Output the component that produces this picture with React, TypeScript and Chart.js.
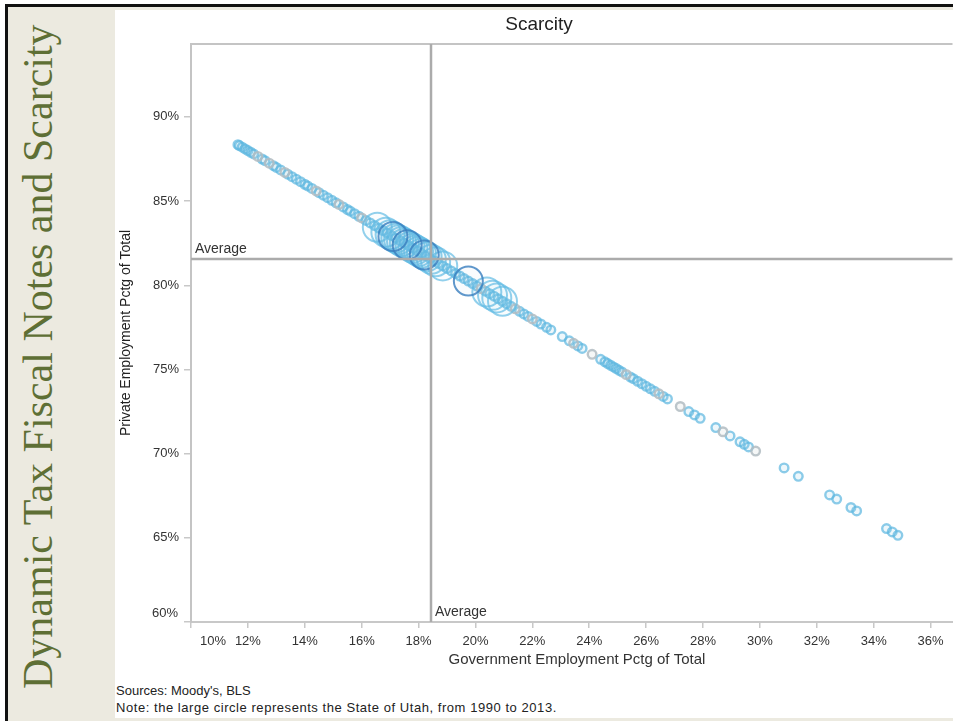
import React, { useEffect, useRef } from "react";
import { Chart, registerables } from "chart.js";

Chart.register(...registerables);

// ---------- DATA ----------
const X_TICKS = [10, 12, 14, 16, 18, 20, 22, 24, 26, 28, 30, 32, 34, 36];
const Y_TICKS = [60, 65, 70, 75, 80, 85, 90];
const AVG_GOV = [18.43];
const AVG_PRIV = [81.57];

// Counties (small circles), blue tone
const COUNTY_BLUE_GOV = [
  11.65, 11.7, 11.8, 11.9, 12.0, 12.1, 12.2, 12.5, 12.6, 12.9,
  13.0, 13.15, 13.4, 13.55, 13.7, 13.85, 14.0, 14.1, 14.25, 14.5,
  14.65, 14.8, 14.95, 15.1, 15.35, 15.5, 15.6, 15.75, 15.9, 16.15,
  16.3, 16.45, 16.6, 16.75, 16.9, 17.05, 17.2, 17.35, 17.5, 17.65,
  17.8, 17.95, 18.1, 18.25, 18.4, 18.55, 18.7, 18.85, 19.0, 19.15,
  19.3, 19.45, 19.6, 19.75, 19.9, 20.05, 20.35, 20.5, 20.65, 20.8,
  20.95, 21.1, 21.25, 21.55, 21.7, 21.85, 22.15, 22.3, 22.5, 22.65,
  23.05, 23.3, 23.6, 23.75, 24.4, 24.55, 24.65, 24.75, 24.85, 24.95,
  25.05, 25.15, 25.45, 25.55, 25.7, 25.85, 26.0, 26.15, 26.3, 26.6,
  26.75, 27.5, 27.7, 27.9, 28.45, 28.95, 29.3, 29.45, 29.6, 30.85,
  31.35, 32.45, 32.7, 33.2, 33.4, 34.45, 34.65, 34.85,
];
const COUNTY_BLUE_PRIV = [
  88.35, 88.3, 88.2, 88.1, 88.0, 87.9, 87.8, 87.5, 87.4, 87.1,
  87.0, 86.85, 86.6, 86.45, 86.3, 86.15, 86.0, 85.9, 85.75, 85.5,
  85.35, 85.2, 85.05, 84.9, 84.65, 84.5, 84.4, 84.25, 84.1, 83.85,
  83.7, 83.55, 83.4, 83.25, 83.1, 82.95, 82.8, 82.65, 82.5, 82.35,
  82.2, 82.05, 81.9, 81.75, 81.6, 81.45, 81.3, 81.15, 81.0, 80.85,
  80.7, 80.55, 80.4, 80.25, 80.1, 79.95, 79.65, 79.5, 79.35, 79.2,
  79.05, 78.9, 78.75, 78.45, 78.3, 78.15, 77.85, 77.7, 77.5, 77.35,
  76.95, 76.7, 76.4, 76.25, 75.6, 75.45, 75.35, 75.25, 75.15, 75.05,
  74.95, 74.85, 74.55, 74.45, 74.3, 74.15, 74.0, 73.85, 73.7, 73.4,
  73.25, 72.5, 72.3, 72.1, 71.55, 71.05, 70.7, 70.55, 70.4, 69.15,
  68.65, 67.55, 67.3, 66.8, 66.6, 65.55, 65.35, 65.15,
];

// Counties (small circles), grey tone
const COUNTY_GREY_GOV = [
  12.35, 12.75, 13.3, 14.4, 15.2, 16.0, 20.2, 21.4, 22.0, 23.45,
  24.1, 25.3, 26.45, 27.2, 28.7, 29.85,
];
const COUNTY_GREY_PRIV = [
  87.65, 87.25, 86.7, 85.6, 84.8, 84.0, 79.8, 78.6, 78.0, 76.55,
  75.9, 74.7, 73.55, 72.8, 71.3, 70.15,
];

// State of Utah 1990-2013 (large circles)
const UTAH_LIGHT_GOV = [
  16.55, 16.85, 17.0, 17.2, 17.3, 17.4, 17.5, 17.7, 17.8, 17.9,
  18.0, 18.1, 18.3, 18.45, 18.6, 18.85, 20.4, 20.6, 20.75, 20.95,
];
const UTAH_LIGHT_PRIV = [
  83.45, 83.15, 83.0, 82.8, 82.7, 82.6, 82.5, 82.3, 82.2, 82.1,
  82.0, 81.9, 81.7, 81.55, 81.4, 81.15, 79.6, 79.4, 79.25, 79.05,
];
const UTAH_DARK_GOV = [17.1, 17.6, 18.2, 19.75];
const UTAH_DARK_PRIV = [82.9, 82.4, 81.8, 80.25];

// ---------- HELPERS ----------
const FONT = "'Liberation Sans', Arial, sans-serif";
const toPoints = (xs: number[], ys: number[]) =>
  xs.map((x, i) => ({ x, y: ys[i] }));

const decorPlugin = {
  id: "decor",
  afterDatasetsDraw(chart: any) {
    const { ctx, chartArea, scales } = chart;
    const xs = scales.x;
    const ys = scales.y;
    ctx.save();
    ctx.strokeStyle = "#c4c4c4";
    ctx.lineWidth = 2;
    ctx.beginPath();
    ctx.moveTo(chartArea.left, chartArea.top);
    ctx.lineTo(chartArea.right, chartArea.top);
    ctx.stroke();
    ctx.strokeStyle = "#ababab";
    ctx.lineWidth = 2.5;
    const ax = Math.round(xs.getPixelForValue(AVG_GOV[0]));
    const ay = Math.round(ys.getPixelForValue(AVG_PRIV[0]));
    ctx.beginPath();
    ctx.moveTo(ax, chartArea.top);
    ctx.lineTo(ax, chartArea.bottom);
    ctx.moveTo(chartArea.left, ay);
    ctx.lineTo(chartArea.right, ay);
    ctx.stroke();
    ctx.fillStyle = "#333";
    ctx.font = `14px ${FONT}`;
    ctx.textBaseline = "middle";
    ctx.textAlign = "left";
    ctx.fillText("Average", chartArea.left + 4, ay - 10);
    ctx.fillText("Average", ax + 4, chartArea.bottom - 10);
    ctx.restore();
  },
  afterDraw(chart: any) {
    const { ctx, chartArea, scales } = chart;
    const xs = scales.x;
    const ys = scales.y;
    ctx.save();
    ctx.fillStyle = "#222";
    ctx.font = `19px ${FONT}`;
    ctx.textAlign = "center";
    ctx.textBaseline = "middle";
    ctx.fillText("Scarcity", 424, 15);
    ctx.fillStyle = "#333";
    ctx.font = `15px ${FONT}`;
    ctx.fillText("Government Employment Pctg of Total", 462, 650);
    ctx.save();
    ctx.translate(11, 323);
    ctx.rotate(-Math.PI / 2);
    ctx.font = `14px ${FONT}`;
    ctx.fillStyle = "#222";
    ctx.fillText("Private Employment Pctg of Total", 0, 0);
    ctx.restore();
    ctx.font = `13px ${FONT}`;
    ctx.fillStyle = "#333";
    ctx.textAlign = "center";
    ctx.fillText(X_TICKS[0] + "%", xs.getPixelForValue(X_TICKS[0]) + 22, chartArea.bottom + 19);
    ctx.textAlign = "right";
    ctx.fillText(Y_TICKS[0] + "%", chartArea.left - 13, ys.getPixelForValue(Y_TICKS[0]) - 9);
    ctx.restore();
  },
};

export default function App() {
  const ref = useRef<HTMLCanvasElement | null>(null);

  useEffect(() => {
    if (!ref.current) return;
    const chart = new Chart(ref.current, {
      type: "scatter",
      data: {
        datasets: [
          {
            label: "Utah (dark)",
            data: toPoints(UTAH_DARK_GOV, UTAH_DARK_PRIV),
            pointRadius: 14.5,
            borderWidth: 2,
            borderColor: "rgba(55,125,190,0.8)",
            backgroundColor: "rgba(55,125,190,0.03)",
            order: 1,
          },
          {
            label: "Utah",
            data: toPoints(UTAH_LIGHT_GOV, UTAH_LIGHT_PRIV),
            pointRadius: 14.5,
            borderWidth: 2,
            borderColor: "rgba(100,188,228,0.7)",
            backgroundColor: "rgba(100,188,228,0.03)",
            order: 2,
          },
          {
            label: "Counties (grey)",
            data: toPoints(COUNTY_GREY_GOV, COUNTY_GREY_PRIV),
            pointRadius: 4.3,
            borderWidth: 2.4,
            borderColor: "rgba(178,188,194,0.85)",
            backgroundColor: "rgba(190,198,202,0.15)",
            order: 3,
          },
          {
            label: "Counties",
            data: toPoints(COUNTY_BLUE_GOV, COUNTY_BLUE_PRIV),
            pointRadius: 4.3,
            borderWidth: 2.4,
            borderColor: "rgba(92,182,224,0.7)",
            backgroundColor: "rgba(140,200,230,0.15)",
            order: 4,
          },
        ],
      },
      options: {
        responsive: false,
        animation: false,
        events: [],
        layout: { padding: { top: 34, left: 0, right: 0, bottom: 0 } },
        plugins: {
          legend: { display: false },
          tooltip: { enabled: false },
          title: { display: false },
        },
        scales: {
          x: {
            type: "linear",
            min: 10,
            max: 36.77,
            afterBuildTicks: (s: any) => {
              s.ticks = X_TICKS.map((v) => ({ value: v }));
            },
            afterFit: (s: any) => {
              s.height = 58;
            },
            ticks: {
              autoSkip: false,
              maxRotation: 0,
              padding: 6,
              color: "#333",
              font: { family: FONT, size: 13 },
              callback: (v: any) => (v === X_TICKS[0] ? "" : v + "%"),
            },
            grid: {
              drawOnChartArea: false,
              drawTicks: true,
              tickLength: 6,
              color: "#c8c8c8",
              lineWidth: 1.5,
            },
            border: { display: true, color: "#c8c8c8", width: 2 },
          },
          y: {
            type: "linear",
            min: 60,
            max: 94.33,
            afterBuildTicks: (s: any) => {
              s.ticks = Y_TICKS.map((v) => ({ value: v }));
            },
            afterFit: (s: any) => {
              s.width = 76;
            },
            ticks: {
              autoSkip: false,
              padding: 5,
              color: "#333",
              font: { family: FONT, size: 13 },
              callback: (v: any) => (v === Y_TICKS[0] ? "" : v + "%"),
            },
            grid: {
              drawOnChartArea: false,
              drawTicks: true,
              tickLength: 7,
              color: "#c8c8c8",
              lineWidth: 1.5,
            },
            border: { display: true, color: "#c4c4c4", width: 2 },
          },
        },
      },
      plugins: [decorPlugin],
    });
    return () => chart.destroy();
  }, []);

  return (
    <div
      style={{
        position: "fixed",
        left: 0,
        top: 0,
        width: 953,
        height: 721,
        background: "#fff",
        overflow: "hidden",
      }}
    >
      <div style={{ position: "absolute", left: 8, top: 7, width: 945, height: 714, background: "#ECEAE0" }} />
      <div style={{ position: "absolute", left: 5, top: 4, width: 948, height: 3, background: "#111" }} />
      <div style={{ position: "absolute", left: 5, top: 4, width: 3, height: 717, background: "#111" }} />
      <div style={{ position: "absolute", left: 115, top: 10, width: 838, height: 708, background: "#fff" }} />
      <div
        style={{
          position: "absolute",
          left: 0,
          top: 0,
          width: 700,
          height: 50,
          lineHeight: "50px",
          whiteSpace: "nowrap",
          fontFamily: "'Liberation Serif', 'Times New Roman', serif",
          fontSize: 42,
          color: "#5E6F35",
          transformOrigin: "0 0",
          transform: "translate(12.6px, 689px) rotate(-90deg)",
        }}
      >
        Dynamic Tax Fiscal Notes and Scarcity
      </div>
      <canvas
        ref={ref}
        width={854}
        height={670}
        style={{ position: "absolute", left: 115, top: 10, width: 854, height: 670 }}
      />
      <div
        style={{
          position: "absolute",
          left: 116,
          top: 682,
          fontFamily: FONT,
          fontSize: 13,
          lineHeight: "17px",
          color: "#222",
          whiteSpace: "nowrap",
        }}
      >
        <div>Sources: Moody's, BLS</div>
        <div style={{ letterSpacing: "0.55px" }}>
          Note: the large circle represents the State of Utah, from 1990 to 2013.
        </div>
      </div>
    </div>
  );
}
